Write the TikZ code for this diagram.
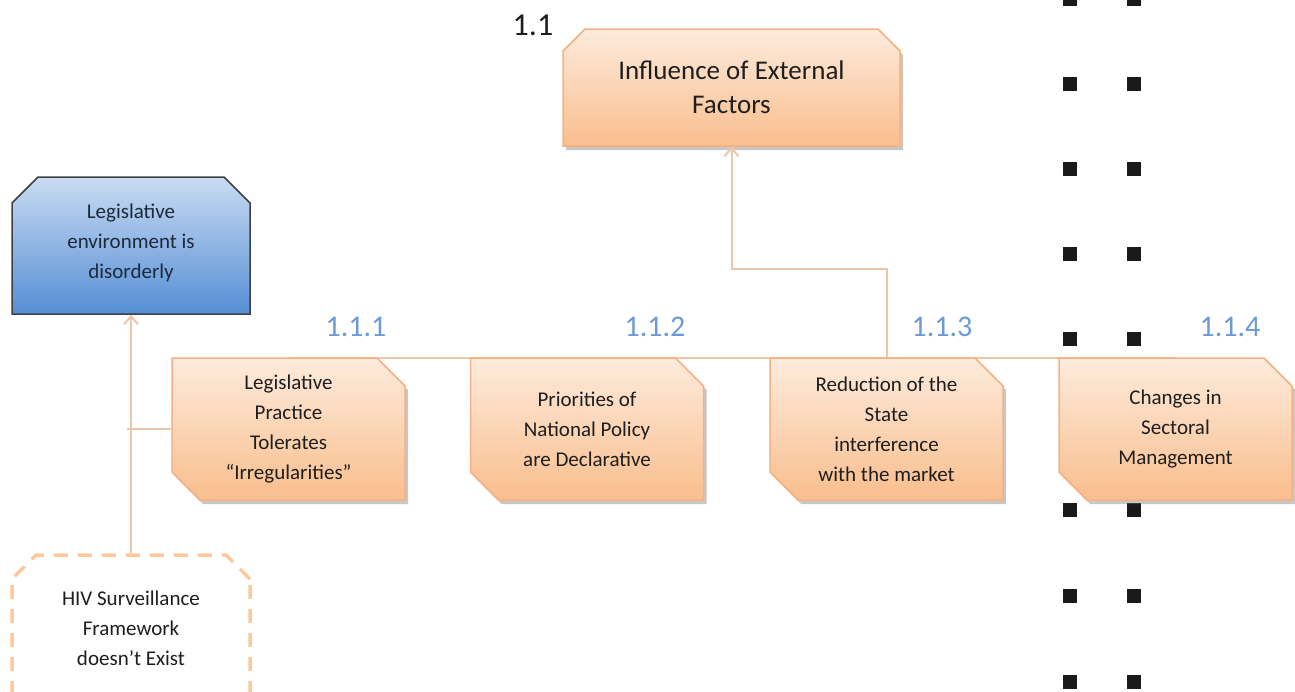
\documentclass[tikz,border=0pt]{standalone}
\usepackage{fontspec}
\setmainfont{Carlito}
\usetikzlibrary{shapes.misc,shadows,arrows.meta,calc}
\definecolor{obord}{HTML}{F5B183}
\definecolor{otop}{HTML}{FDEBDC}
\definecolor{obot}{HTML}{F9BE8D}
\definecolor{btop}{HTML}{C9DBF2}
\definecolor{bbot}{HTML}{558ED5}
\definecolor{bbord}{HTML}{3F3F3F}
\definecolor{txt}{HTML}{1E1E1E}
\definecolor{btxt}{HTML}{1C2A3A}
\definecolor{conncol}{HTML}{EDC6A8}
\definecolor{dashcol}{HTML}{FAC99C}
\definecolor{lblblue}{HTML}{6A9BD8}
\definecolor{sqcol}{HTML}{1A1A1A}
\begin{document}
\begin{tikzpicture}[x=1pt,y=-1pt,
  shade/.style={drop shadow={shadow xshift=3pt,shadow yshift=-4pt,opacity=0.4,fill=black!55}},
  obox/.style={chamfered rectangle, chamfered rectangle corners={north east,south west},
    chamfered rectangle xsep=14pt, chamfered rectangle ysep=14pt,
    draw=obord, line width=1.5pt, top color=otop, bottom color=obot, shade,
    align=center, text=txt, font=\fontsize{21}{30}\selectfont,
    minimum width=233pt, minimum height=142pt, inner sep=0pt},
  topbox/.style={chamfered rectangle, chamfered rectangle corners={north west,north east},
    chamfered rectangle xsep=11pt, chamfered rectangle ysep=11pt,
    draw=obord, line width=1.5pt, top color=otop, bottom color=obot, shade,
    align=center, text=txt, font=\fontsize{27}{34}\selectfont,
    minimum width=337pt, minimum height=117pt, inner sep=0pt},
  bluebox/.style={chamfered rectangle, chamfered rectangle corners={north west,north east},
    chamfered rectangle xsep=13pt, chamfered rectangle ysep=13pt,
    draw=bbord, line width=1.5pt, top color=btop, bottom color=bbot,
    align=center, text=btxt, font=\fontsize{21}{30}\selectfont,
    minimum width=238pt, minimum height=137pt, inner sep=0pt},
  dashbox/.style={chamfered rectangle, chamfered rectangle corners={north west,north east},
    chamfered rectangle xsep=12pt, chamfered rectangle ysep=12pt,
    draw=dashcol, line width=3.5pt, dash pattern=on 14pt off 10pt, fill=white,
    align=center, text=txt, font=\fontsize{21}{30}\selectfont,
    minimum width=238pt, minimum height=146pt, inner sep=0pt},
  conn/.style={draw=conncol, line width=2pt},
  arr/.style={conn, -{Straight Barb[length=8pt,width=14pt,line width=2pt]}},
  lbl/.style={text=lblblue, font=\fontsize{30}{36}\selectfont, inner sep=0pt},
]
\useasboundingbox (0,0) rectangle (1295,691);
\clip (0,0) rectangle (1295,691);

% bullet squares
\foreach \yy in {-1,84,169,254,339,425,510,596,682}{
  \fill[sqcol] (1063,\yy-7) rectangle (1077,\yy+7);
  \fill[sqcol] (1127,\yy-7) rectangle (1141,\yy+7);
}

% node placement
\path node[topbox] (top) at (731.5,87.5) {Influence of External\\Factors};
\path node[bluebox] (blue) at (131,245.5) {Legislative\\environment is\\disorderly\\[-21pt]};
\path node[dashbox] (hiv) at (131,628) {HIV Surveillance\\Framework\\doesn’t Exist};

% connectors behind level boxes
\coordinate (b1n) at (288.5,358);
\coordinate (b4n) at (1175.5,358);
\draw[conn] (b1n) -- (b4n);
\coordinate (b3n) at (886.5,358);
\draw[arr] (b3n) -- ++(0,-89) -| (top.south);

\node[obox] (b1) at (288.5,429) {Legislative\\Practice\\Tolerates\\“Irregularities”};
\node[obox] (b2) at (587,429) {Priorities of\\National Policy\\are Declarative};
\node[obox] (b3) at (886.5,429) {Reduction of the\\State\\interference\\with the market};
\node[obox] (b4) at (1175.5,429) {Changes in\\Sectoral\\Management};

\draw[arr] (hiv.north) -- (blue.south);
\coordinate (lj) at (127,429);
\draw[conn] (b1.west) -- (lj);

% labels
\node[text=txt, font=\fontsize{32}{38}\selectfont, inner sep=0pt] (l11) at (533,25) {1.1};
\node[lbl] (l111) at (356,327) {1.1.1};
\node[lbl] (l112) at (655,327) {1.1.2};
\node[lbl] (l113) at (942,327) {1.1.3};
\node[lbl] (l114) at (1230,327) {1.1.4};
\end{tikzpicture}
\end{document}
